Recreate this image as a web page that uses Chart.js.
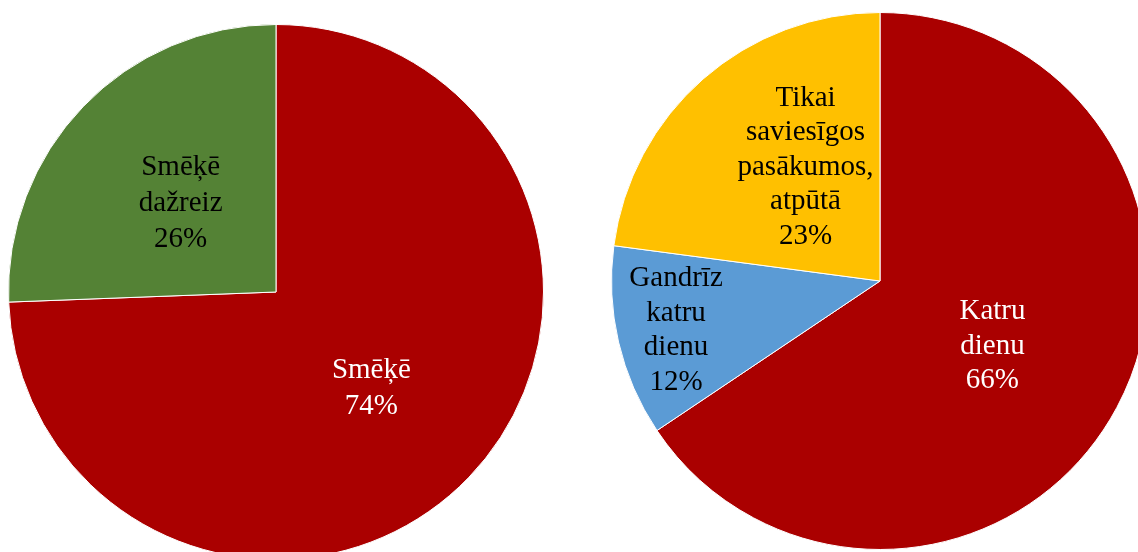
<html>
<head>
<script src="https://cdn.jsdelivr.net/npm/chart.js"></script>
<style>
  body { margin: 0; width: 1138px; height: 552px; overflow: hidden; background: #fff; position: relative; }
  .pie { position: absolute; }
</style>
</head>
<body>
<div class="pie" style="left:8px; top:24px;"><canvas id="leftPie" width="536" height="536"></canvas></div>
<div class="pie" style="left:611px; top:12px;"><canvas id="rightPie" width="538" height="538"></canvas></div>

<script>
// left pie: smokers
const leftCats = [['Smēķē'], ['Smēķē', 'dažreiz']];
const leftVals = [74.4, 25.6];

// right pie: how often
const rightCats = [['Katru', 'dienu'], ['Gandrīz', 'katru', 'dienu'], ['Tikai', 'saviesīgos', 'pasākumos,', 'atpūtā']];
const rightVals = [65.6, 11.5, 22.9];

const RED = '#AA0000', GREEN = '#548235', BLUE = '#5B9BD5', YELLOW = '#FFC000';

// draws the in-slice labels (no datalabels plugin offline)
const sliceLabels = {
  id: 'sliceLabels',
  afterDatasetsDraw(chart, args, opts) {
    const ctx = chart.ctx;
    const meta = chart.getDatasetMeta(0);
    const cats = chart.data.labels;
    const vals = chart.data.datasets[0].data;
    ctx.save();
    ctx.font = '29px "Liberation Serif", "Times New Roman", serif';
    ctx.textAlign = 'center';
    ctx.textBaseline = 'middle';
    meta.data.forEach((arc, i) => {
      const p = arc.getProps(['x', 'y', 'startAngle', 'endAngle', 'outerRadius'], true);
      const mid = (p.startAngle + p.endAngle) / 2;
      const [f, dx, dy] = opts.place[i];
      const cx = p.x + Math.cos(mid) * p.outerRadius * f + dx;
      const cy = p.y + Math.sin(mid) * p.outerRadius * f + dy;
      const lines = cats[i].concat([Math.round(vals[i]) + '%']);
      const lh = opts.lineHeight;
      const top = cy - (lines.length - 1) * lh / 2;
      ctx.fillStyle = opts.colors[i];
      lines.forEach((t, k) => ctx.fillText(t, cx, top + k * lh));
    });
    ctx.restore();
  }
};

function makePie(id, cats, vals, colors, textColors, place, lineHeight) {
  new Chart(document.getElementById(id), {
    type: 'pie',
    data: {
      labels: cats,
      datasets: [{
        data: vals,
        backgroundColor: colors,
        borderColor: '#ffffff',
        borderWidth: 1
      }]
    },
    options: {
      responsive: false,
      animation: false,
      layout: { padding: 0 },
      plugins: {
        legend: { display: false },
        tooltip: { enabled: false },
        sliceLabels: { colors: textColors, place: place, lineHeight: lineHeight }
      }
    },
    plugins: [sliceLabels]
  });
}

makePie('leftPie', leftCats, leftVals, [RED, GREEN], ['#fff', '#000'],
  [[0.5, -1, 4], [0.5, 1, 4]], 36);

makePie('rightPie', rightCats, rightVals, [RED, BLUE, YELLOW], ['#fff', '#000', '#000'],
  [[0.5, -6, 2], [0.78, 0, 2], [0.5, 14, -13]], 34.5);
</script>
</body>
</html>
